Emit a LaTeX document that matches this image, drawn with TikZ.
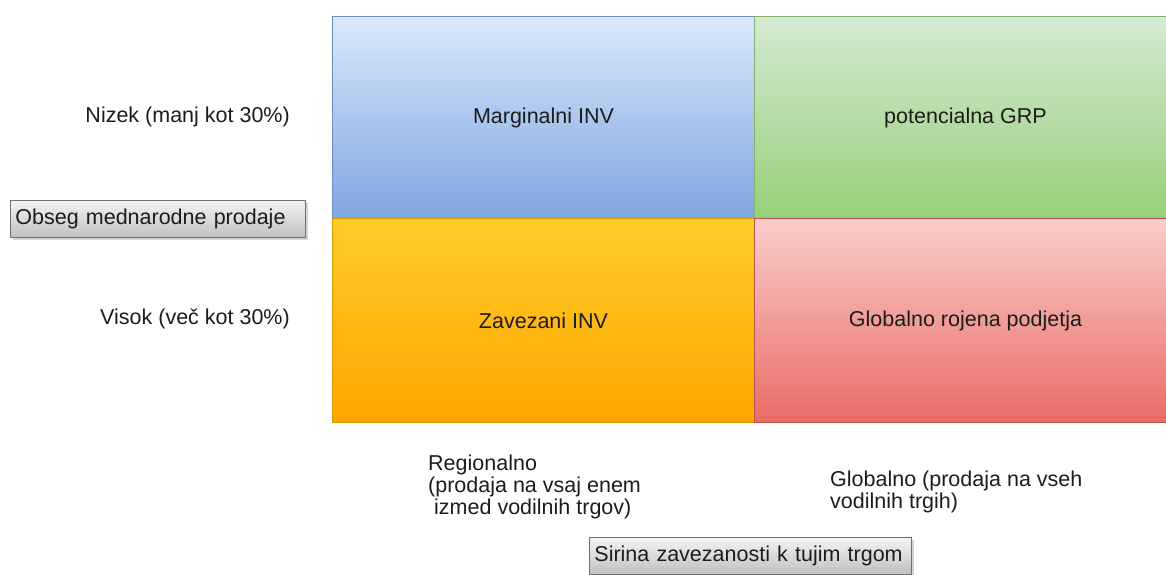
\documentclass[tikz,border=0pt]{standalone}
\usepackage{fontspec}
\setmainfont{Liberation Sans}
\usetikzlibrary{shadows}

% cell fills (top / bottom of the gradient) and borders
\definecolor{blueT}{HTML}{DAE8FC}
\definecolor{blueB}{HTML}{7EA6E0}
\definecolor{blueD}{HTML}{6C8EBF}
\definecolor{greenT}{HTML}{D5E8D4}
\definecolor{greenB}{HTML}{97D077}
\definecolor{greenD}{HTML}{82B366}
\definecolor{orangeT}{HTML}{FFCD28}
\definecolor{orangeB}{HTML}{FFA500}
\definecolor{orangeD}{HTML}{D79B00}
\definecolor{redT}{HTML}{F8CECC}
\definecolor{redB}{HTML}{EA6B66}
\definecolor{redD}{HTML}{B85450}
% axis title buttons
\definecolor{btnT}{HTML}{F4F4F4}
\definecolor{btnB}{HTML}{C0C0C0}
\definecolor{btnD}{HTML}{707070}
\definecolor{txt}{HTML}{1C1C1C}
\definecolor{shade}{HTML}{D6D6D6}

\begin{document}
\begin{tikzpicture}[x=1pt,y=-1pt,
  font=\fontsize{21.5}{22}\selectfont,
  lbl/.style={inner sep=0pt, text=txt},
  cell/.style={draw=#1D, line width=1pt, top color=#1T, bottom color=#1B,
    anchor=north west, minimum width=422pt, inner sep=0pt, text=txt},
  btn/.style={draw=btnD, line width=0.8pt, top color=btnT, bottom color=btnB,
    anchor=north west, align=left, inner xsep=5pt, inner ysep=0pt,
    minimum height=37pt, text=txt,
    drop shadow={shadow xshift=3pt, shadow yshift=-3pt, opacity=0.35}},
]
\useasboundingbox (0,0) rectangle (1166,574);
\clip (0,0) rectangle (1166,574);

% shadow under the whole grid
\fill[shade] (335,21) rectangle (1180,428);

% the four cells of the matrix
\node[cell=blue,   minimum height=202pt] (marg) at (332,16)  {Marginalni INV};
\node[cell=green,  minimum height=202pt] (pot)  at (754,16)  {potencialna GRP};
\node[cell=orange, minimum height=204pt] (zav)  at (332,218) {Zavezani INV};
\node[cell=red,    minimum height=204pt] (grp)  at (754,218) {Globalno rojena podjetja};

% row labels
\node[lbl, anchor=east] (nizek) at (290,117) {Nizek (manj kot 30\%)};
\node[lbl, anchor=east] (visok) at (290,319) {Visok (več kot 30\%)};
\node[btn, text width=285pt] (obseg) at (10,200) {Obseg mednarodne prodaje};

% column labels
\node[lbl, align=left, anchor=north west] (regio) at (428,455)
  {Regionalno\\(prodaja na vsaj enem\\\hspace*{0.28em}izmed vodilnih trgov)};
\node[lbl, align=left, anchor=north west] (glob) at (830,471)
  {Globalno (prodaja na vseh\\vodilnih trgih)};
\node[btn, text width=312pt] (sirina) at (589,537) {Sirina zavezanosti k tujim trgom};
\end{tikzpicture}
\end{document}
